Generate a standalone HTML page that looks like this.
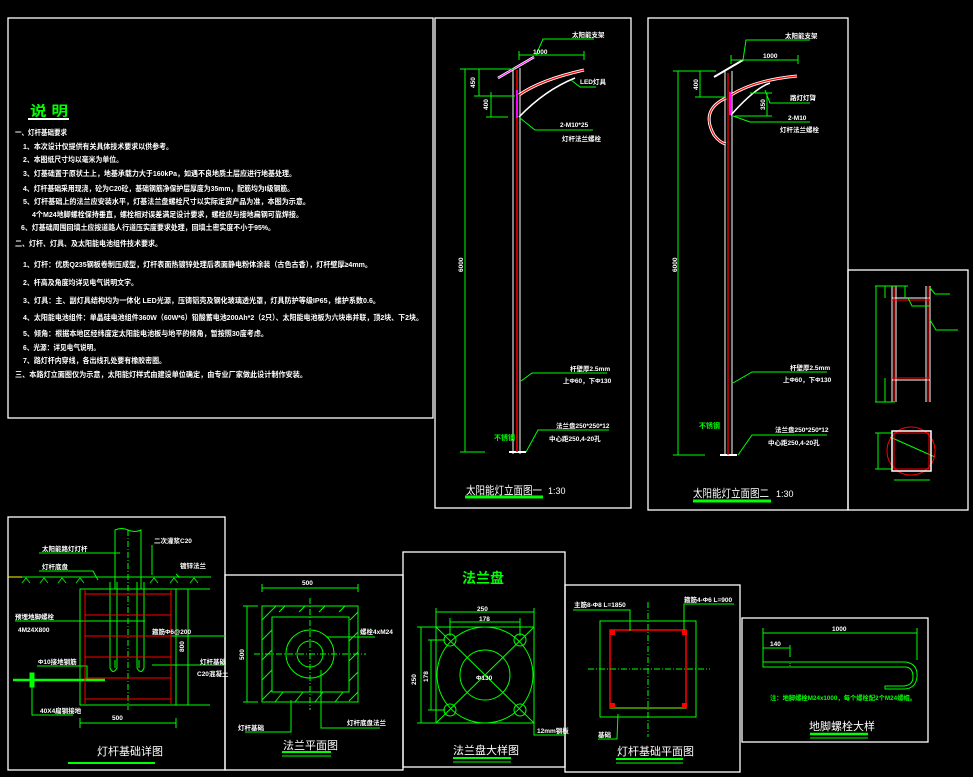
<!DOCTYPE html>
<html><head><meta charset="utf-8"><style>
html,body{margin:0;padding:0;background:#000;}
svg{display:block}
text{font-family:"Liberation Sans","Noto Sans CJK SC",sans-serif;}
.w{fill:#fff;font-size:7.5px;font-weight:bold}
.g{fill:#0f0}
.s{fill:#fff;font-size:6.5px;font-weight:bold}
</style></head><body>
<svg width="973" height="777" viewBox="0 0 973 777" xmlns="http://www.w3.org/2000/svg">
<rect width="973" height="777" fill="#000"/>
<g fill="none" stroke="#fff" stroke-width="1.3">
<rect x="8" y="18" width="425" height="400"/>
<rect x="435" y="18" width="196" height="490"/>
<rect x="648" y="18" width="200" height="492"/>
<rect x="848" y="270" width="120" height="240"/>
<rect x="8" y="517" width="217" height="253"/>
<rect x="225" y="575" width="178" height="195"/>
<rect x="403" y="552" width="162" height="215"/>
<rect x="565" y="585" width="175" height="187"/>
<rect x="742" y="618" width="186" height="124"/>
</g>
<!-- Notes -->
<text x="30" y="116" class="g" font-size="14" font-weight="bold" textLength="38" lengthAdjust="spacingAndGlyphs">说 明</text>
<line x1="28" y1="119" x2="69" y2="119" stroke="#fff" stroke-width="2"/>
<g class="w">
<text x="15" y="135" textLength="52" lengthAdjust="spacingAndGlyphs">一、灯杆基础要求</text>
<text x="23" y="149" textLength="150" lengthAdjust="spacingAndGlyphs">1、本次设计仅提供有关具体技术要求以供参考。</text>
<text x="23" y="162" textLength="100" lengthAdjust="spacingAndGlyphs">2、本图纸尺寸均以毫米为单位。</text>
<text x="23" y="176" textLength="273" lengthAdjust="spacingAndGlyphs">3、灯基础置于原状土上，地基承载力大于160kPa，如遇不良地质土层应进行地基处理。</text>
<text x="23" y="191" textLength="271" lengthAdjust="spacingAndGlyphs">4、灯杆基础采用现浇，砼为C20砼，基础钢筋净保护层厚度为35mm，配筋均为I级钢筋。</text>
<text x="23" y="204" textLength="287" lengthAdjust="spacingAndGlyphs">5、灯杆基础上的法兰应安装水平，灯基法兰盘螺栓尺寸以实际定货产品为准，本图为示意。</text>
<text x="32" y="217" textLength="271" lengthAdjust="spacingAndGlyphs">4个M24地脚螺栓保持垂直，螺栓相对误差满足设计要求，螺栓应与接地扁钢可靠焊接。</text>
<text x="21" y="230" textLength="254" lengthAdjust="spacingAndGlyphs">6、灯基础周围回填土应按道路人行道压实度要求处理，回填土密实度不小于95%。</text>
<text x="15" y="246" textLength="147" lengthAdjust="spacingAndGlyphs">二、灯杆、灯具、及太阳能电池组件技术要求。</text>
<text x="23" y="267" textLength="349" lengthAdjust="spacingAndGlyphs">1、灯杆：优质Q235钢板卷制压成型，灯杆表面热镀锌处理后表面静电粉体涂装（古色古香），灯杆壁厚≥4mm。</text>
<text x="23" y="285" textLength="115" lengthAdjust="spacingAndGlyphs">2、杆高及角度均详见电气说明文字。</text>
<text x="23" y="303" textLength="357" lengthAdjust="spacingAndGlyphs">3、灯具：主、副灯具结构均为一体化 LED光源，压铸铝壳及钢化玻璃透光罩，灯具防护等级IP65，维护系数0.6。</text>
<text x="23" y="320" textLength="400" lengthAdjust="spacingAndGlyphs">4、太阳能电池组件：单晶硅电池组件360W（60W*6）铅酸蓄电池200Ah*2（2只）、太阳能电池板为六块串并联，顶2块、下2块。</text>
<text x="23" y="336" textLength="245" lengthAdjust="spacingAndGlyphs">5、倾角：根据本地区经纬度定太阳能电池板与地平的倾角，暂按照30度考虑。</text>
<text x="23" y="350" textLength="77" lengthAdjust="spacingAndGlyphs">6、光源：详见电气说明。</text>
<text x="23" y="363" textLength="143" lengthAdjust="spacingAndGlyphs">7、路灯杆内穿线，各出线孔处要有橡胶密圈。</text>
<text x="15" y="377" textLength="292" lengthAdjust="spacingAndGlyphs">三、本路灯立面图仅为示意，太阳能灯样式由建设单位确定，由专业厂家做此设计制作安装。</text>
</g>

<!-- Elevation 1 -->
<g fill="none" stroke-width="1">
<line x1="513" y1="68" x2="513" y2="454" stroke="#fff"/>
<line x1="520" y1="68" x2="520" y2="454" stroke="#fff"/>
<line x1="509" y1="452" x2="526" y2="452" stroke="#fff" stroke-width="2"/>
<line x1="517" y1="70" x2="517" y2="452" stroke="#f00" stroke-width="1.5"/>
<line x1="498" y1="78" x2="534" y2="57" stroke="#fff" stroke-width="2.5"/>
<line x1="498" y1="78" x2="534" y2="57" stroke="#f0f" stroke-width="1"/>
<path d="M519 95 Q540 80 584 70" stroke="#fff" stroke-width="3"/>
<path d="M519 95 Q540 80 584 70" stroke="#f00" stroke-width="1.2"/>
<path d="M519 117 Q545 90 575 78" stroke="#fff" stroke-width="1.5"/>
<line x1="517" y1="90" x2="517" y2="118" stroke="#f0f" stroke-width="2"/>
<g stroke="#0f0">
<line x1="465" y1="69" x2="465" y2="452"/><line x1="460" y1="69" x2="515" y2="69"/>
<line x1="460" y1="452" x2="485" y2="452"/>
<line x1="479" y1="69" x2="479" y2="96"/><line x1="474" y1="96" x2="515" y2="96"/>
<line x1="491" y1="92" x2="491" y2="117"/><line x1="486" y1="117" x2="508" y2="117"/>
<line x1="519" y1="55" x2="584" y2="55"/><line x1="519" y1="51" x2="519" y2="60"/><line x1="584" y1="51" x2="584" y2="60"/>
<polyline points="536,55 543,39 594,39"/>
<polyline points="571,80 580,87 596,87"/>
<polyline points="520,118 535,130 593,130"/>
<polyline points="521,381 532,373 607,373"/>
<polyline points="526,452 538,430 609,430"/>
<line x1="465" y1="497" x2="543" y2="497" stroke-width="3"/>
</g></g>
<g class="s">
<text x="572" y="37">太阳能支架</text><text x="580" y="84">LED灯具</text>
<text x="560" y="127">2-M10*25</text><text x="562" y="141">灯杆法兰螺栓</text>
<text x="570" y="371">杆壁厚2.5mm</text><text x="563" y="383">上Φ60，下Φ130</text>
<text x="556" y="428">法兰盘250*250*12</text><text x="549" y="441">中心距250,4-20孔</text>
<text x="533" y="54">1000</text>
<text transform="translate(475,88) rotate(-90)">450</text>
<text transform="translate(488,110) rotate(-90)">400</text>
<text transform="translate(463,272) rotate(-90)">6000</text>
</g>
<text x="494" y="440" class="g" font-size="7" font-weight="bold">不锈钢</text>
<text x="466" y="494" fill="#fff" font-size="11" textLength="76" lengthAdjust="spacingAndGlyphs">太阳能灯立面图一</text><text x="548" y="494" fill="#fff" font-size="9">1:30</text>

<!-- Elevation 2 -->
<g fill="none" stroke-width="1">
<line x1="725" y1="71" x2="725" y2="455" stroke="#fff"/>
<line x1="732" y1="71" x2="732" y2="455" stroke="#fff"/>
<line x1="720" y1="455" x2="737" y2="455" stroke="#fff" stroke-width="2"/>
<line x1="728" y1="73" x2="728" y2="455" stroke="#f00" stroke-width="1.3"/>
<line x1="714" y1="77" x2="743" y2="60" stroke="#fff" stroke-width="2"/>
<path d="M731 95 Q755 80 797 76" stroke="#fff" stroke-width="3"/>
<path d="M731 95 Q755 80 797 76" stroke="#f00" stroke-width="1.2"/>
<path d="M731 115 Q755 88 770 83" stroke="#fff" stroke-width="1.5"/>
<path d="M726 98 Q700 110 714 135 Q720 143 726 144" stroke="#fff" stroke-width="3"/>
<path d="M726 98 Q700 110 714 135 Q720 143 726 144" stroke="#f00" stroke-width="1.2"/>
<line x1="730" y1="92" x2="730" y2="115" stroke="#f0f" stroke-width="2"/>
<g stroke="#0f0">
<line x1="678" y1="71" x2="678" y2="455"/><line x1="673" y1="71" x2="716" y2="71"/>
<line x1="673" y1="455" x2="705" y2="455"/>
<line x1="700" y1="71" x2="700" y2="97"/><line x1="695" y1="97" x2="726" y2="97"/>
<line x1="767" y1="93" x2="767" y2="116"/><line x1="750" y1="93" x2="772" y2="93"/><line x1="735" y1="116" x2="772" y2="116"/>
<line x1="731" y1="60" x2="798" y2="60"/><line x1="731" y1="55" x2="731" y2="64"/><line x1="798" y1="55" x2="798" y2="64"/>
<polyline points="743,60 746,40 810,40"/>
<polyline points="765,90 770,103 810,103"/>
<polyline points="733,116 750,122 810,122"/>
<polyline points="733,383 752,372 827,372"/>
<polyline points="738,455 752,435 827,435"/>
<line x1="693" y1="501" x2="771" y2="501" stroke-width="3"/>
</g></g>
<g class="s">
<text x="785" y="38">太阳能支架</text><text x="790" y="100">路灯灯臂</text>
<text x="788" y="120">2-M10</text><text x="780" y="132">灯杆法兰螺栓</text>
<text x="790" y="370">杆壁厚2.5mm</text><text x="783" y="382">上Φ60，下Φ130</text>
<text x="775" y="432">法兰盘250*250*12</text><text x="768" y="445">中心距250,4-20孔</text>
<text x="763" y="58">1000</text>
<text transform="translate(698,90) rotate(-90)">400</text>
<text transform="translate(765,110) rotate(-90)">350</text>
<text transform="translate(677,272) rotate(-90)">6000</text>
</g>
<text x="699" y="428" class="g" font-size="7" font-weight="bold">不锈钢</text>
<text x="693" y="497" fill="#fff" font-size="11" textLength="76" lengthAdjust="spacingAndGlyphs">太阳能灯立面图二</text><text x="776" y="497" fill="#fff" font-size="9">1:30</text>

<!-- detail panel -->
<g fill="none">
<g stroke="#fff" stroke-width="1"><line x1="892" y1="286" x2="892" y2="402"/><line x1="896" y1="286" x2="896" y2="402"/><line x1="926" y1="286" x2="926" y2="402"/><line x1="930" y1="286" x2="930" y2="402"/>
<line x1="892" y1="298" x2="930" y2="298"/><line x1="892" y1="380" x2="930" y2="380"/></g>
<g stroke="#f00"><line x1="894" y1="286" x2="894" y2="402"/><line x1="928" y1="286" x2="928" y2="402"/><line x1="892" y1="300" x2="930" y2="300"/><line x1="892" y1="378" x2="930" y2="378"/></g>
<g stroke="#0f0"><line x1="876" y1="286" x2="876" y2="402"/><line x1="875" y1="286" x2="908" y2="286"/><line x1="875" y1="402" x2="895" y2="402"/>
<line x1="885" y1="286" x2="885" y2="298"/><line x1="905" y1="286" x2="905" y2="298"/><line x1="885" y1="378" x2="885" y2="402"/>
<polyline points="930,288 935,294 950,294"/><polyline points="908,298 912,306 930,306"/><polyline points="930,320 936,330 958,330"/>
<line x1="878" y1="433" x2="878" y2="469"/><line x1="875" y1="433" x2="892" y2="433"/><line x1="875" y1="469" x2="892" y2="469"/>
<line x1="894" y1="480" x2="930" y2="480"/><line x1="890" y1="437" x2="935" y2="457"/></g>
<circle cx="911" cy="451" r="24" stroke="#f00"/>
<rect x="892" y="431" width="39" height="40" stroke="#fff" stroke-width="1.5"/>
<rect x="894" y="433" width="35" height="36" stroke="#f00"/>
</g>

<!-- Foundation detail -->
<g fill="none" stroke="#0f0" stroke-width="1">
<path d="M115 589 V530 Q122 527 128 530 Q135 533 141 530 V589"/>
<line x1="128" y1="530" x2="128" y2="710" stroke-dasharray="6,2,1,2"/>
<line x1="10" y1="577" x2="211" y2="577"/>
<line x1="80" y1="589" x2="210" y2="589"/>
<rect x="80" y="589" width="96" height="116"/>
<line x1="188" y1="589" x2="188" y2="705"/><line x1="176" y1="705" x2="210" y2="705"/>
<line x1="80" y1="723" x2="176" y2="723"/><line x1="80" y1="718" x2="80" y2="728"/><line x1="176" y1="718" x2="176" y2="728"/>
<path d="M110 582 V668 Q113 675 117 668 V582 M115 668 V660"/>
<path d="M144 582 V668 Q141 675 137 668 V582 M139 668 V660"/>
<polyline points="39,553 120,553"/><polyline points="39,571 93,571 98,580"/>
<polyline points="152,545 152,575 M152,545 208,545"/>
<polyline points="179,577 176,574 M170,571 205,571"/>
<line x1="15" y1="621" x2="145" y2="621"/>
<line x1="152" y1="636" x2="225" y2="636"/><line x1="152" y1="665" x2="225" y2="665"/>
<polyline points="37,666 87,666 87,679"/>
<line x1="13" y1="680" x2="105" y2="680" stroke-width="2.5"/>
<rect x="30" y="673" width="4" height="14" fill="#0f0"/>
<polyline points="32,687 32,715 73,715"/>
<line x1="68" y1="763" x2="155" y2="763" stroke-width="2"/>
</g>
<g stroke="#0f0" fill="none" stroke-width="0.8">
<path d="M22 583 l4 -5 l4 5 M40 583 l4 -5 l4 5 M58 583 l4 -5 l4 5 M76 583 l4 -5 l4 5 M150 583 l4 -5 l4 5 M170 583 l4 -5 l4 5 M190 583 l4 -5 l4 5"/>
</g>
<line x1="8" y1="577" x2="22" y2="577" stroke="#ff0"/>
<g stroke="#f00" stroke-width="1">
<line x1="85" y1="589" x2="85" y2="704"/><line x1="171" y1="589" x2="171" y2="704"/>
<line x1="85" y1="594" x2="171" y2="594"/><line x1="85" y1="615" x2="171" y2="615"/><line x1="85" y1="636" x2="171" y2="636"/>
<line x1="85" y1="657" x2="171" y2="657"/><line x1="85" y1="678" x2="171" y2="678"/><line x1="85" y1="699" x2="171" y2="699"/>
</g>
<g class="s" font-size="6">
<text x="42" y="551">太阳能路灯灯杆</text><text x="42" y="569">灯杆底盘</text>
<text x="154" y="543">二次灌浆C20</text><text x="180" y="568">镀锌法兰</text>
<text x="15" y="619">预埋地脚螺栓</text><text x="18" y="632">4M24X800</text>
<text x="152" y="634">箍筋Φ6@200</text><text x="200" y="664">灯杆基础</text><text x="197" y="676">C20混凝土</text>
<text x="38" y="664">Φ10接地钢筋</text><text x="40" y="713">40X4扁钢接地</text>
<text x="112" y="720">500</text>
<text transform="translate(184,652) rotate(-90)">800</text>
</g>
<text x="97" y="755" fill="#fff" font-size="11">灯杆基础详图</text>

<!-- Flange plan -->
<g fill="none" stroke="#0f0" stroke-width="1">
<rect x="262" y="606" width="96" height="96"/>
<rect x="272" y="617" width="77" height="75"/>
<path d="M262 620 l14 -14 M262 640 l10 -10 M262 660 l10 -10 M262 680 l10 -10 M262 700 l10 -10 M285 606 l-6 6 M305 606 l-6 6 M325 606 l-6 6 M345 606 l-6 6 M358 612 l-8 8 M358 632 l-9 9 M358 652 l-9 9 M358 672 l-9 9 M358 692 l-9 9 M275 702 l8 -10 M295 702 l8 -10 M315 702 l8 -10 M335 702 l8 -10"/>
<circle cx="310" cy="654" r="24"/><circle cx="310" cy="654" r="13"/>
<line x1="254" y1="654" x2="366" y2="654" stroke-dasharray="6,2,1,2"/><line x1="310" y1="598" x2="310" y2="710" stroke-dasharray="6,2,1,2"/>
<line x1="262" y1="588" x2="358" y2="588"/><line x1="262" y1="584" x2="262" y2="592"/><line x1="358" y1="584" x2="358" y2="592"/>
<line x1="247" y1="606" x2="247" y2="702"/><line x1="243" y1="606" x2="258" y2="606"/><line x1="243" y1="702" x2="258" y2="702"/>
<polyline points="327,637 375,637"/><polyline points="291,700 291,732 245,732"/><polyline points="321,670 321,728 380,728"/>
<line x1="282" y1="752" x2="331" y2="752" stroke-width="2"/><line x1="282" y1="756" x2="331" y2="756"/>
</g>
<g class="s" font-size="6"><text x="302" y="585">500</text><text transform="translate(244,660) rotate(-90)">500</text>
<text x="360" y="634">螺栓4xM24</text><text x="238" y="730">灯杆基础</text><text x="347" y="725">灯杆底盘法兰</text></g>
<text x="283" y="749" fill="#fff" font-size="11">法兰平面图</text>

<!-- Flange detail -->
<text x="462" y="583" class="g" font-size="14" font-weight="bold">法兰盘</text>
<g fill="none" stroke="#0f0" stroke-width="1">
<rect x="436" y="627" width="98" height="96"/>
<circle cx="485" cy="675" r="48"/><circle cx="485" cy="675" r="25"/>
<line x1="436" y1="627" x2="534" y2="723"/><line x1="534" y1="627" x2="436" y2="723"/>
<circle cx="450" cy="640" r="6"/><circle cx="520" cy="640" r="6"/><circle cx="450" cy="710" r="6"/><circle cx="520" cy="710" r="6"/>
<line x1="436" y1="612" x2="534" y2="612"/><line x1="436" y1="608" x2="436" y2="630"/><line x1="534" y1="608" x2="534" y2="630"/>
<line x1="450" y1="622" x2="520" y2="622"/><line x1="450" y1="618" x2="450" y2="636"/><line x1="520" y1="618" x2="520" y2="636"/>
<line x1="421" y1="627" x2="421" y2="723"/><line x1="417" y1="627" x2="440" y2="627"/><line x1="417" y1="723" x2="440" y2="723"/>
<line x1="431" y1="640" x2="431" y2="710"/><line x1="428" y1="640" x2="445" y2="640"/><line x1="428" y1="710" x2="445" y2="710"/>
<polyline points="534,723 534,735 565,735"/>
<line x1="453" y1="758" x2="511" y2="758" stroke-width="2"/><line x1="453" y1="762" x2="511" y2="762"/>
</g>
<g class="s" font-size="6.5"><text x="477" y="611">250</text><text x="479" y="621">178</text>
<text transform="translate(416,685) rotate(-90)">250</text><text transform="translate(428,682) rotate(-90)">178</text>
<text x="537" y="733">12mm钢板</text><text x="476" y="680">Φ130</text></g>
<text x="453" y="754" fill="#fff" font-size="11">法兰盘大样图</text>

<!-- Foundation plan -->
<g fill="none" stroke-width="1">
<rect x="600" y="621" width="96" height="96" stroke="#0f0"/>
<rect x="610" y="630" width="76" height="78" stroke="#f00" stroke-width="1.5"/>
<line x1="610" y1="708" x2="686" y2="708" stroke="#0f0"/>
<line x1="588" y1="669" x2="710" y2="669" stroke="#0f0" stroke-dasharray="6,2,1,2"/>
<line x1="648" y1="602" x2="648" y2="737" stroke="#0f0" stroke-dasharray="6,2,1,2"/>
<polyline points="573,610 630,610 630,631" stroke="#0f0"/>
<polyline points="734,604 684,604 684,631" stroke="#0f0"/>
<polyline points="618,714 617,739 598,739" stroke="#0f0"/>
<line x1="616" y1="759" x2="683" y2="759" stroke="#0f0" stroke-width="2"/><line x1="616" y1="763" x2="683" y2="763" stroke="#0f0"/>
</g>
<g fill="#f00"><rect x="610" y="630" width="5" height="5"/><rect x="682" y="630" width="5" height="5"/><rect x="610" y="703" width="5" height="5"/><rect x="682" y="703" width="5" height="5"/></g>
<g class="s" font-size="6.5"><text x="574" y="607">主筋8-Φ8 L=1850</text><text x="684" y="602">箍筋4-Φ6 L=900</text><text x="598" y="737">基础</text></g>
<text x="617" y="755" fill="#fff" font-size="11">灯杆基础平面图</text>

<!-- Anchor bolt -->
<g fill="none" stroke="#0f0" stroke-width="1">
<line x1="763" y1="633" x2="917" y2="633"/><line x1="763" y1="628" x2="763" y2="665"/><line x1="917" y1="628" x2="917" y2="660"/>
<line x1="763" y1="648" x2="790" y2="648"/><line x1="790" y1="645" x2="790" y2="657"/>
<path d="M763 662 H906 Q918 664 917 677 Q916 688 905 689 H885 V686 H904 Q913 685 913 677 Q913 668 906 667 H763 Z"/>
<line x1="810" y1="734" x2="868" y2="734" stroke-width="2.5"/><line x1="810" y1="738" x2="868" y2="738"/>
</g>
<rect x="763" y="662" width="27" height="5" fill="none" stroke="#0f0" stroke-dasharray="1,1"/>
<g class="s" font-size="7"><text x="832" y="631">1000</text><text x="770" y="646">140</text></g>
<text x="770" y="700" class="g" font-size="6.5" font-weight="bold" textLength="146" lengthAdjust="spacingAndGlyphs">注：地脚螺栓M24x1000，每个螺栓配2个M24螺帽。</text>
<text x="809" y="730" fill="#fff" font-size="11">地脚螺栓大样</text>
</svg>
</body></html>
